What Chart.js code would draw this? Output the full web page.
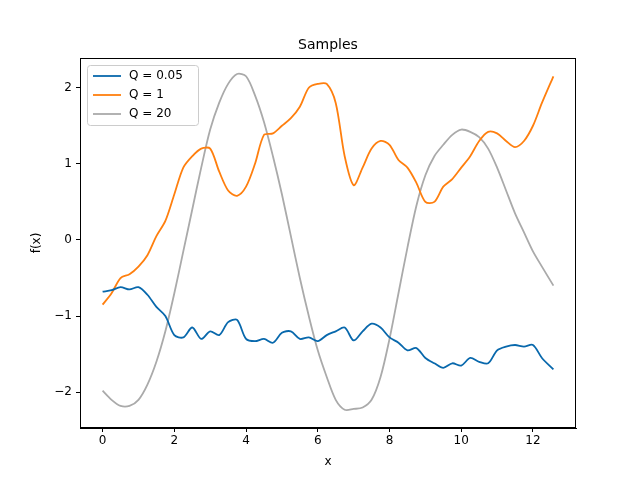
<!DOCTYPE html>
<html><head><meta charset="utf-8">
<script src="https://cdn.jsdelivr.net/npm/chart.js@4"></script>
<style>html,body{margin:0;padding:0;background:#fff}#w{width:640px;height:480px}</style>
</head><body><div id="w"><canvas id="c"></canvas></div>
<script>
const xs=[0,0.25,0.5,0.75,1,1.25,1.5,1.75,2,2.25,2.5,2.75,3,3.25,3.5,3.75,4,4.25,4.5,4.75,5,5.25,5.5,5.75,6,6.25,6.5,6.75,7,7.25,7.5,7.75,8,8.25,8.5,8.75,9,9.25,9.5,9.75,10,10.25,10.5,10.75,11,11.25,11.5,11.75,12,12.25,12.57];
const qLow=[-0.68,-0.66,-0.62,-0.65,-0.62,-0.72,-0.88,-1.0,-1.25,-1.28,-1.15,-1.3,-1.2,-1.25,-1.08,-1.05,-1.3,-1.33,-1.3,-1.35,-1.22,-1.2,-1.3,-1.28,-1.33,-1.25,-1.2,-1.15,-1.32,-1.2,-1.1,-1.15,-1.28,-1.35,-1.45,-1.42,-1.55,-1.62,-1.68,-1.62,-1.65,-1.55,-1.6,-1.62,-1.45,-1.4,-1.38,-1.4,-1.38,-1.55,-1.7];
const qMid=[-0.85,-0.7,-0.5,-0.45,-0.35,-0.2,0.05,0.25,0.6,0.95,1.1,1.2,1.2,0.9,0.65,0.58,0.7,1.0,1.38,1.4,1.5,1.6,1.75,2.0,2.05,2.05,1.8,1.1,0.72,0.95,1.2,1.3,1.25,1.05,0.95,0.75,0.5,0.5,0.7,0.8,0.95,1.1,1.3,1.42,1.4,1.3,1.22,1.3,1.5,1.8,2.15];
const qHigh=[-1.98,-2.1,-2.18,-2.18,-2.1,-1.9,-1.6,-1.2,-0.7,-0.15,0.4,0.95,1.45,1.8,2.05,2.18,2.15,1.9,1.55,1.1,0.6,0.05,-0.5,-1.0,-1.45,-1.8,-2.1,-2.23,-2.22,-2.2,-2.1,-1.8,-1.3,-0.7,-0.1,0.45,0.85,1.1,1.25,1.38,1.45,1.42,1.35,1.2,0.95,0.65,0.35,0.1,-0.15,-0.35,-0.6];
const labels=["Q = 0.05","Q = 1","Q = 20"];
const colors=["#0868ac","#ff7f0e","#aaaaaa"];
const series=[qLow,qMid,qHigh];
const font="'DejaVu Sans'";
const ds=series.map((s,i)=>({label:labels[i],data:xs.map((x,j)=>({x,y:s[j]})),borderColor:colors[i],borderWidth:1.8,pointRadius:0,tension:0.3,fill:false}));
const deco={id:'deco',afterDraw(ch){const c=ch.ctx,a=ch.chartArea;c.save();
c.strokeStyle='#000';c.lineWidth=1;c.strokeRect(a.left+0.5,a.top+0.5,a.right-a.left-1,a.bottom-a.top-1);
c.fillStyle='#000';c.font="14px "+font;c.textAlign='center';c.textBaseline='alphabetic';c.fillText('Samples',(a.left+a.right)/2,49);
c.font="12px "+font;c.textBaseline='middle';c.fillText('x',(a.left+a.right)/2,462);
c.save();c.translate(37,(a.top+a.bottom)/2);c.rotate(-Math.PI/2);c.fillText('f(x)',0,0);c.restore();
const lx=a.left+7,ly=a.top+7;c.fillStyle='rgba(255,255,255,0.8)';c.strokeStyle='#ccc';c.lineWidth=1;
c.beginPath();c.roundRect(lx+0.5,ly+0.5,111,60,3);c.fill();c.stroke();
c.font="12px "+font;c.textAlign='left';c.textBaseline='middle';
labels.forEach((l,i)=>{const y=ly+11+i*19;c.strokeStyle=colors[i];c.lineWidth=1.8;c.beginPath();c.moveTo(lx+6,y);c.lineTo(lx+34,y);c.stroke();c.fillStyle='#000';c.fillText(l,lx+42,y);});
c.restore();}};
new Chart(document.getElementById('c'),{type:'line',data:{datasets:ds},plugins:[deco],
options:{responsive:true,maintainAspectRatio:false,animation:false,
layout:{padding:{top:58,right:64,left:0,bottom:0}},
plugins:{legend:{display:false},tooltip:{enabled:false}},
scales:{
x:{type:'linear',min:-0.63,max:13.2,afterFit(s){s.height=52;},
afterBuildTicks(s){s.ticks=[0,2,4,6,8,10,12].map(v=>({value:v}));},
ticks:{color:'#000',font:{family:font,size:12},maxRotation:0,padding:2},
grid:{drawOnChartArea:false,drawTicks:true,tickLength:4,color:'#000'},border:{color:'#000'}},
y:{min:-2.47,max:2.39,afterFit(s){s.width=80;},
afterBuildTicks(s){s.ticks=[-2,-1,0,1,2].map(v=>({value:v}));},
ticks:{color:'#000',font:{family:font,size:12},padding:4,callback:v=>String(v).replace('-','\u2212')},
grid:{drawOnChartArea:false,drawTicks:true,tickLength:4,color:'#000'},border:{color:'#000'}}}}});
</script></body></html>
